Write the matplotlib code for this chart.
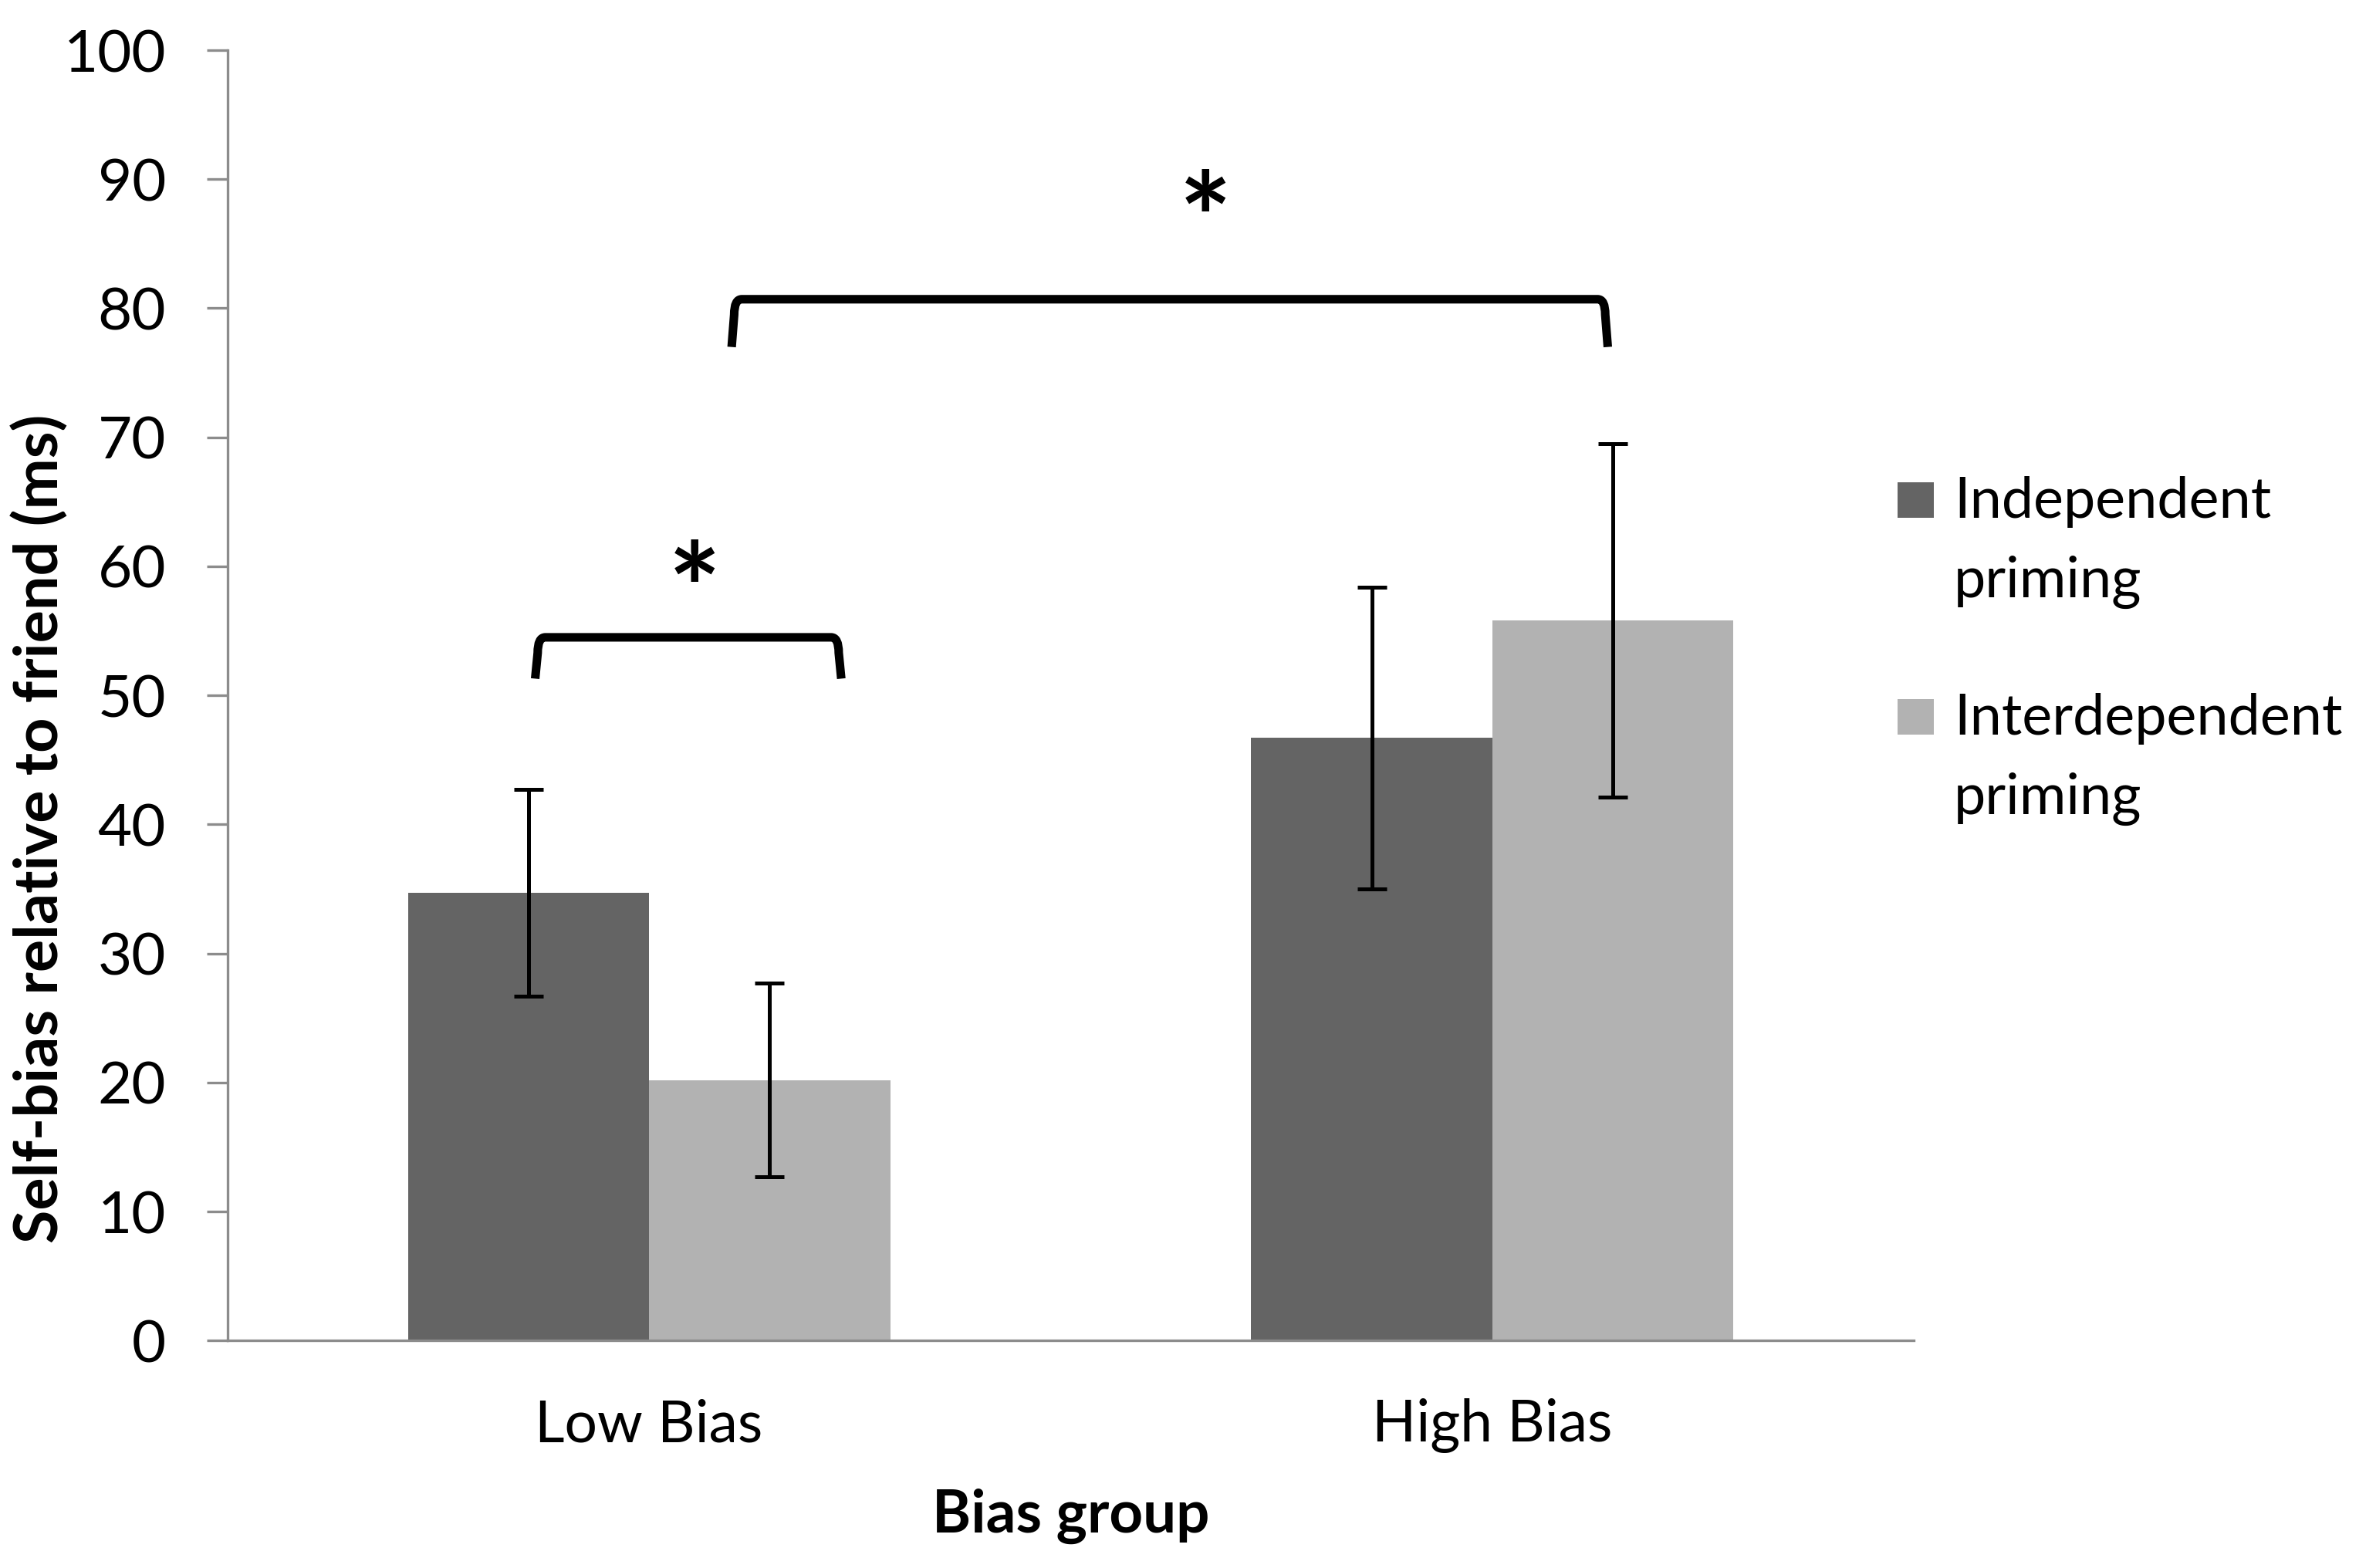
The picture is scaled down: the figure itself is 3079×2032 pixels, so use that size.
import matplotlib
matplotlib.use("Agg")
import matplotlib.pyplot as plt
from matplotlib.path import Path
from matplotlib.patches import PathPatch, Rectangle
import numpy as np

plt.rcParams['font.family'] = ['Lato', 'DejaVu Sans']

groups = ["Low Bias", "High Bias"]
series = ["Independent\npriming", "Interdependent\npriming"]
independent = [34.7, 46.7]
independent_err = [8.0, 11.7]
interdependent = [20.2, 55.8]
interdependent_err = [7.5, 13.7]
colors = ["#646464", "#b2b2b2"]

# significance brackets: (x0, x1, top, bottom, star_x, star_y)
brackets = [(-0.135, 0.228, 54.5, 51.3, 0.054, 60.0),
            (0.098, 1.137, 80.7, 77.0, 0.660, 88.7)]

fig = plt.figure(figsize=(15.395, 10.16), dpi=200)
ax = fig.add_axes([0.0957, 0.145, 0.7098, 0.823])

x = np.arange(len(groups))
w = 0.286
ax.bar(x - w/2, independent, w, color=colors[0], zorder=2)
ax.bar(x + w/2, interdependent, w, color=colors[1], zorder=2)
ax.errorbar(x - w/2, independent, yerr=independent_err, fmt='none', ecolor='black',
            elinewidth=1.8, capsize=7, capthick=1.8, zorder=3)
ax.errorbar(x + w/2, interdependent, yerr=interdependent_err, fmt='none', ecolor='black',
            elinewidth=1.8, capsize=7, capthick=1.8, zorder=3)

ax.set_xlim(-0.5, 1.5)
ax.set_ylim(0, 100)
ax.set_yticks(range(0, 101, 10))
ax.set_xticks(x)
ax.set_xticklabels(groups)
ax.tick_params(axis='y', length=9.7, width=1.2, color='#8c8c8c', labelsize=27.5, pad=19)
ax.tick_params(axis='x', length=0, labelsize=27, pad=27)
for s in ['top', 'right']:
    ax.spines[s].set_visible(False)
for s in ['left', 'bottom']:
    ax.spines[s].set_color('#8c8c8c')
    ax.spines[s].set_linewidth(1.2)

ax.set_xlabel("Bias group", fontsize=27.5, fontweight='bold')
ax.xaxis.set_label_coords(0.5, -0.136)
ax.xaxis.label.set_va('center')
ax.set_ylabel("Self-bias relative to friend (ms)", fontsize=28.5, fontweight='bold')
ax.yaxis.set_label_coords(-0.1106, 0.397)
ax.yaxis.label.set_va('center')

for x0, x1, top, bot, sx, sy in brackets:
    dx = 0.012
    dy = 1.2
    verts = [(x0, bot), (x0 + 0.003, top - dy), (x0 + 0.003, top), (x0 + dx, top),
             (x1 - dx, top), (x1 - 0.003, top), (x1 - 0.003, top - dy), (x1, bot)]
    codes = [Path.MOVETO, Path.LINETO, Path.CURVE3, Path.CURVE3,
             Path.LINETO, Path.CURVE3, Path.CURVE3, Path.LINETO]
    ax.add_patch(PathPatch(Path(verts, codes), fill=False, lw=4, edgecolor='black',
                           capstyle='butt', joinstyle='round', zorder=4))
    # asterisk glyph sits high in the line box, so anchor it lower
    ax.text(sx, sy - 2.4, "*", fontsize=58, fontweight='bold', ha='center', va='center')

# legend drawn by hand so the square sits beside the first line of each label
H = 2032.0
leg_base = [671, 952]   # baseline of first line, px from top
line_gap = 103
for lab, col, b in zip(series, colors, leg_base):
    fig.patches.append(Rectangle((0.7987, 1 - b / H), 0.01526, 46 / H,
                                 transform=fig.transFigure, facecolor=col, edgecolor='none'))
    for i, line in enumerate(lab.split("\n")):
        fig.text(0.8223, 1 - (b + i * line_gap) / H, line, fontsize=26.5,
                 ha='left', va='baseline', transform=fig.transFigure)

fig.savefig("out.png", dpi=200)
